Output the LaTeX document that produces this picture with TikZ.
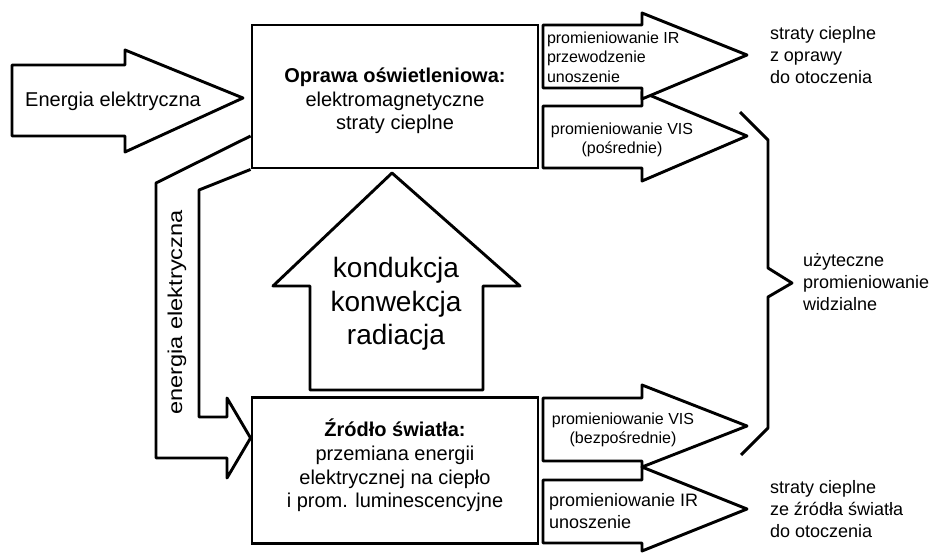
\documentclass[tikz,border=0pt]{standalone}
\usepackage{graphicx}
\usepackage{fontspec}
\setmainfont{Liberation Sans}
\begin{document}
\begin{tikzpicture}[x=1pt,y=-1pt]
\tikzset{
  blk/.style={draw=black, line width=2.9pt, line join=round, fill=white},
  bx/.style={draw=black, line width=2.9pt, fill=white, inner sep=0pt, minimum width=286pt},
  lbl/.style={inner sep=0pt, outer sep=0pt, text=black},
  f16/.style={lbl, font=\fontsize{16}{19.3}\selectfont},
  f18/.style={lbl, font=\fontsize{18}{21.7}\selectfont},
  f20/.style={lbl, font=\fontsize{20}{23.7}\selectfont},
  f28/.style={lbl, font=\fontsize{28}{33.3}\selectfont},
  brk/.style={draw=black, line width=2.9pt, line join=round},
}
\useasboundingbox (0,0) rectangle (930,553);
\fill[white] (0,0) rectangle (930,553);

% boxes
\node[bx, minimum height=143pt] (oprawa) at (395,96.5) {};
\node[bx, minimum height=146pt] (zrodlo) at (395,470.5) {};

% input arrow
\draw[blk] (12,65) -- (125,65) -- (125,50) -- (243,98) -- (125,152) -- (125,136) -- (12,136) -- cycle;

% L-shaped arrow from the luminaire to the light source
\draw[blk, fill=none] (oprawa.west |- 0,136) -- (156,183) -- (156,458) -- (227,458) -- (227,478)
   -- (zrodlo.west |- 0,438) -- (227,398) -- (227,417) -- (199,417) -- (199,190) -- (oprawa.south west);

% big up arrow
\draw[blk] (310,390) -- (310,286) -- (273,286) -- (392,173) -- (520,286) -- (483,286) -- (483,390) -- cycle;

% right arrows (top pair)
\draw[blk] (543,106) -- (642,106) -- (642,92) -- (747,136) -- (642,181) -- (642,168) -- (543,168) -- cycle;
\draw[blk] (543,25) -- (642,25) -- (642,13) -- (747,55) -- (642,99) -- (642,88) -- (543,88) -- cycle;
% right arrows (bottom pair)
\draw[blk] (543,398) -- (642,398) -- (642,385) -- (747,426) -- (642,467) -- (642,461) -- (543,461) -- cycle;
\draw[blk] (543,480) -- (642,480) -- (642,467) -- (747,509) -- (642,551) -- (642,543) -- (543,543) -- cycle;

% bracket
\draw[brk] (740,112) -- (768,140) -- (768,268) -- (792,283) -- (768,297) -- (768,428) -- (741,455);

% texts
\node[f20] (inT) at (113,101) {Energia elektryczna};
\node[f20, align=center] (oprawaT) at (395,101) {\textbf{Oprawa oświetleniowa:}\\elektromagnetyczne\\straty cieplne};
\node[f20, align=center] (zrodloT) at (395,465.5) {\textbf{Źródło światła:}\\przemiana energii\\elektrycznej na ciepło\\i prom. luminescencyjne};
\node[f28, align=center] (konT) at (396,304) {kondukcja\\konwekcja\\radiacja};
\node[f20, rotate=90] (elT) at (177,312.5) {\scalebox{1.18}[1]{energia elektryczna}};
\node[f16, align=left, anchor=west] (irT) at (547,57) {promieniowanie IR\\przewodzenie\\unoszenie};
\node[f16, align=center] (visT) at (622,140) {promieniowanie VIS\\(pośrednie)};
\node[f16, align=center] (vis2T) at (623,430) {promieniowanie VIS\\(bezpośrednie)};
\node[f18, align=left, anchor=west] (ir2T) at (549,511) {promieniowanie IR\\unoszenie};
\node[f18, align=left, anchor=west] (s1) at (770,55) {straty cieplne\\z oprawy\\do otoczenia};
\node[f18, align=left, anchor=west] (u) at (803,282) {użyteczne\\promieniowanie\\widzialne};
\node[f18, align=left, anchor=west] (s2) at (770,509) {straty cieplne\\ze źródła światła\\do otoczenia};
\end{tikzpicture}
\end{document}
